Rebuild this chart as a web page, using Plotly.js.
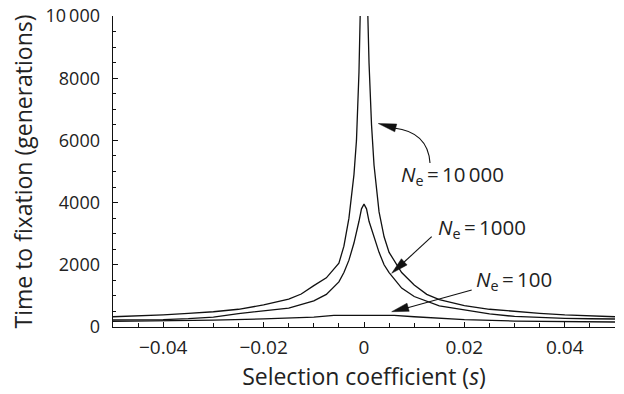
<!DOCTYPE html>
<html><head><meta charset="utf-8">
<script src="https://cdn.plot.ly/plotly-3.0.1.min.js"></script>
<style>html,body{margin:0;padding:0;background:#fff}#chart{width:624px;height:394px}</style>
</head><body><div id="chart"></div>
<script>
// Selection coefficient values (x) and time to fixation (generations) for each Ne
const s10000 = [-0.05,-0.045,-0.04,-0.035,-0.03,-0.025,-0.02,-0.015,-0.0125,-0.01,-0.0075,-0.005,-0.004,-0.003,-0.002,-0.0015,-0.001,-0.00075,0,
                 0.00075,0.001,0.0015,0.002,0.003,0.004,0.005,0.0075,0.01,0.0125,0.015,0.02,0.025,0.03,0.035,0.04,0.045,0.05];
const t10000 = [330,355,390,435,490,570,710,900,1060,1330,1580,2050,2600,3500,4900,6000,8200,10100,40000,
                 10100,8500,6500,5200,3700,2900,2400,1750,1350,1050,880,690,570,500,440,390,355,330];

const s1000 = [-0.05,-0.045,-0.04,-0.035,-0.03,-0.025,-0.02,-0.015,-0.01,-0.0075,-0.005,-0.004,-0.003,-0.002,-0.001,-0.0005,0,
                0.0005,0.001,0.002,0.003,0.004,0.005,0.0075,0.01,0.015,0.02,0.025,0.03,0.035,0.04,0.045,0.05];
const t1000 = [225,230,240,270,320,430,510,610,840,1050,1450,1750,2150,2700,3400,3800,3950,
                3800,3400,2900,2400,2000,1750,1250,980,680,540,420,340,300,280,265,257];

const s100 = [-0.05,-0.04,-0.03,-0.02,-0.01,-0.006,0,0.006,0.01,0.02,0.03,0.04,0.05];
const t100 = [180,195,220,260,320,375,380,375,330,240,190,170,160];

const xTickVals = [-0.04,-0.02,0,0.02,0.04];
const xTickText = ['\u22120.04','\u22120.02','0','0.02','0.04'];
const yTickVals = [0,2000,4000,6000,8000,10000];
const yTickText = ['0','2000','4000','6000','8000','10\u2009000'];
const labelTexts = ['<i>N</i><sub>e</sub>\u2009=\u200910\u2009000','<i>N</i><sub>e</sub>\u2009=\u20091000','<i>N</i><sub>e</sub>\u2009=\u2009100'];

// layout geometry helpers (pixel -> paper)
const L=113, R=615, T=16, B=327;
const px = x => (x-L)/(R-L);
const py = y => (B-y)/(B-T);
function head(tip, from, len, hw){
  const dx=tip[0]-from[0], dy=tip[1]-from[1], d=Math.hypot(dx,dy);
  const ux=dx/d, uy=dy/d, bx=tip[0]-ux*len, by=tip[1]-uy*len, nx=-uy, ny=ux;
  return {type:'path', xref:'paper', yref:'paper', fillcolor:'#111', line:{color:'#111',width:0.5},
    path:`M${px(tip[0])},${py(tip[1])} L${px(bx+nx*hw)},${py(by+ny*hw)} L${px(bx-nx*hw)},${py(by-ny*hw)} Z`};
}
function seg(a,b){
  return {type:'line', xref:'paper', yref:'paper', x0:px(a[0]), y0:py(a[1]), x1:px(b[0]), y1:py(b[1]), line:{color:'#111',width:1.1}};
}
const shapes = [
  {type:'path', xref:'paper', yref:'paper', line:{color:'#111',width:1.1},
   path:`M${px(430)},${py(163)} Q${px(428)},${py(132)} ${px(394)},${py(128)}`},
  head([378.3,123.5],[396,128],18,4),
  seg([431.7,236.7],[402,264]),
  head([391.7,273.3],[431.7,236.7],17,4.2),
  seg([471.7,290],[405,308.5]),
  head([391.7,311.7],[471.7,290],17,4.2)
];

const lineStyle = {color:'#111', width:1.3};
const traces = [
  {x:s10000, y:t10000, mode:'lines', line:lineStyle, hoverinfo:'skip'},
  {x:s1000, y:t1000, mode:'lines', line:lineStyle, hoverinfo:'skip'},
  {x:s100, y:t100, mode:'lines', line:lineStyle, hoverinfo:'skip'}
];

const font = {family:'"Open Sans", sans-serif', color:'#222'};
const layout = {
  width:624, height:394,
  margin:{l:L, r:624-R, t:T, b:394-B},
  paper_bgcolor:'#fff', plot_bgcolor:'#fff',
  showlegend:false,
  font:Object.assign({size:18}, font),
  xaxis:{range:[-0.05,0.05], tickmode:'array', tickvals:xTickVals, ticktext:xTickText,
    ticks:'inside', ticklen:5, tickwidth:1, tickcolor:'#111',
    minor:{ticks:'inside', ticklen:4, tickwidth:1, tickcolor:'#111', dtick:0.005, tick0:0},
    showline:true, linecolor:'#111', linewidth:1.4, showgrid:false, zeroline:false,
    tickfont:Object.assign({size:19}, font), ticklabelstandoff:3,
    title:{text:'Selection coefficient (<i>s</i>)', font:Object.assign({size:23}, font), standoff:9}},
  yaxis:{range:[0,10000], tickmode:'array', tickvals:yTickVals, ticktext:yTickText,
    ticks:'inside', ticklen:5, tickwidth:1, tickcolor:'#111',
    minor:{ticks:'inside', ticklen:3, tickwidth:1, tickcolor:'#111', dtick:500, tick0:0},
    showline:true, linecolor:'#111', linewidth:1.4, showgrid:false, zeroline:false,
    tickfont:Object.assign({size:18}, font), ticklabelstandoff:8,
    title:{text:'Time to fixation (generations)', font:Object.assign({size:23}, font), standoff:6}},
  shapes:shapes,
  annotations:[
    {xref:'paper', yref:'paper', x:px(452.5), y:py(175), text:labelTexts[0], showarrow:false, font:Object.assign({size:20.5}, font), xanchor:'center', yanchor:'middle'},
    {xref:'paper', yref:'paper', x:px(482), y:py(228), text:labelTexts[1], showarrow:false, font:Object.assign({size:20.5}, font), xanchor:'center', yanchor:'middle'},
    {xref:'paper', yref:'paper', x:px(513.5), y:py(280), text:labelTexts[2], showarrow:false, font:Object.assign({size:20.5}, font), xanchor:'center', yanchor:'middle'}
  ]
};
Plotly.newPlot('chart', traces, layout, {displayModeBar:false, staticPlot:true});
</script></body></html>
